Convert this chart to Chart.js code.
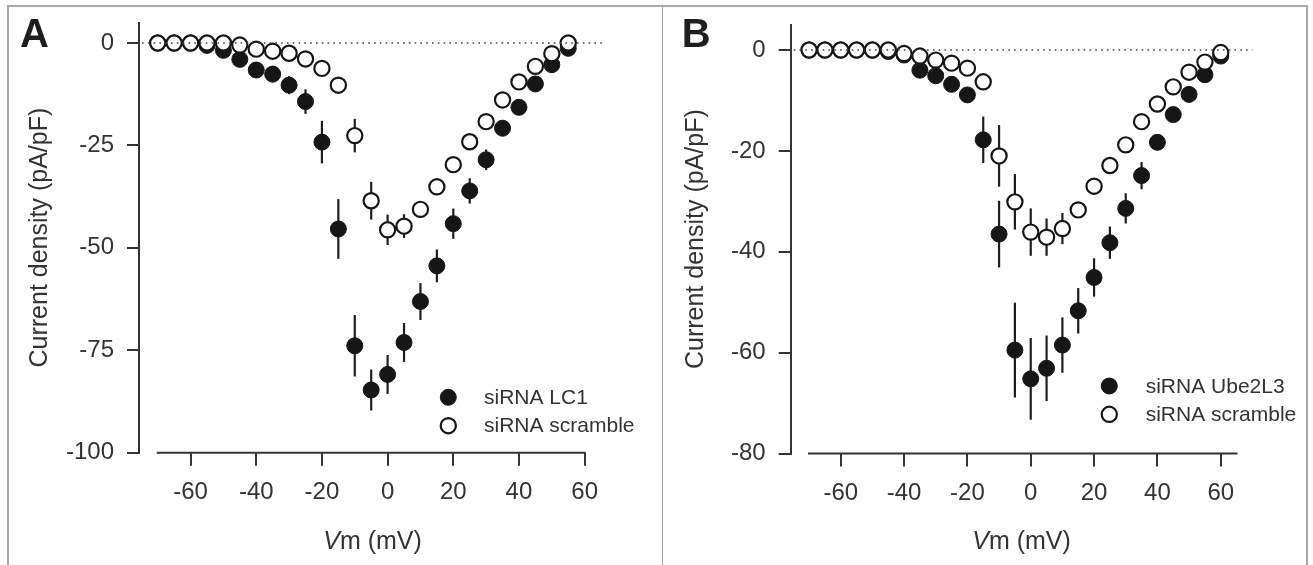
<!DOCTYPE html>
<html><head><meta charset="utf-8">
<script src="https://cdn.jsdelivr.net/npm/chart.js@4.4.1/dist/chart.umd.min.js"></script>
<style>
html,body{margin:0;padding:0;background:#fff;}
body{width:1313px;height:565px;position:relative;overflow:hidden;}
.frame{position:absolute;background:#a9a9a9;}
#wa{position:absolute;left:0;top:0;width:656px;height:565px;}
#wb{position:absolute;left:656px;top:0;width:657px;height:565px;}
</style></head><body>
<div class="frame" style="left:7px;top:5px;width:1300px;height:1.5px"></div>
<div class="frame" style="left:7px;top:5px;width:1.5px;height:560px"></div>
<div class="frame" style="left:661.5px;top:5px;width:1.5px;height:560px"></div>
<div class="frame" style="left:1306px;top:5px;width:1.5px;height:560px"></div>
<div id="wa"><canvas id="ca" width="656" height="565"></canvas></div>
<div id="wb"><canvas id="cb" width="657" height="565"></canvas></div>
<script>
// ---------- DATA ----------
const xTickValues = [-60, -40, -20, 0, 20, 40, 60];
const yTicksA = [0, -25, -50, -75, -100];
const yTicksB = [0, -20, -40, -60, -80];

// Panel A
const voltageA = [-70,-65,-60,-55,-50,-45,-40,-35,-30,-25,-20,-15,-10,-5,0,5,10,15,20,25,30,35,40,45,50,55];
const lc1Current = [0,0,0,-0.6,-1.8,-4.0,-6.6,-7.6,-10.3,-14.3,-24.2,-45.4,-73.9,-84.7,-80.9,-73.1,-63.1,-54.4,-44.1,-36.1,-28.5,-20.8,-15.7,-10.0,-5.3,-1.3];
const lc1Err     = [0.3,0.3,0.3,0.4,0.6,1.0,1.8,2.0,2.2,3.0,5.2,7.3,7.5,5.0,4.75,4.75,4.5,4.0,3.7,3.1,2.5,1.6,1.2,1.0,0.8,0.6];
const scrambleACurrent = [0,0,0,0,0,-0.5,-1.5,-2.0,-2.5,-3.9,-6.2,-10.3,-22.6,-38.5,-45.6,-44.7,-40.6,-35.1,-29.7,-24.1,-19.2,-13.9,-9.5,-5.7,-2.6,0];
const scrambleAErr     = [0.2,0.2,0.2,0.2,0.2,0.3,0.4,0.5,0.6,0.8,1.0,1.2,4.1,4.6,3.7,2.9,1.8,1.5,1.2,1.0,1.0,0.9,0.8,0.7,0.6,0.4];

// Panel B
const voltageB = [-70,-65,-60,-55,-50,-45,-40,-35,-30,-25,-20,-15,-10,-5,0,5,10,15,20,25,30,35,40,45,50,55,60];
const ube2l3Current = [0,0,0,0,0,-0.3,-1.0,-4.0,-5.1,-6.8,-8.9,-17.8,-36.5,-59.5,-65.2,-63.1,-58.5,-51.7,-45.1,-38.2,-31.4,-24.9,-18.3,-12.8,-8.8,-4.9,-1.2];
const ube2l3Err     = [0.2,0.2,0.2,0.2,0.2,0.3,0.4,0.8,1.0,1.2,1.4,4.6,6.6,9.4,8.1,6.5,5.5,4.5,3.8,3.2,3.0,2.7,1.5,1.2,1.0,0.8,0.6];
const scrambleBCurrent = [0,0,0,0,0,0,-0.7,-1.2,-2.0,-2.6,-3.6,-6.3,-21.0,-30.1,-36.1,-37.1,-35.4,-31.7,-27.0,-22.9,-18.8,-14.2,-10.7,-7.3,-4.4,-2.4,-0.5];
const scrambleBErr     = [0.2,0.2,0.2,0.2,0.2,0.2,0.3,0.5,0.6,0.8,1.0,1.2,6.1,5.5,4.7,3.7,3.1,1.6,1.4,1.2,1.0,1.0,0.9,0.8,0.6,0.5,0.4];

// ---------- STYLE ----------
const FAM = '"Liberation Sans", Arial, Helvetica, sans-serif';
Chart.defaults.font.family = FAM;
const INK = '#161616';
const TXT = '#333333';

const filledStyle = {pointRadius: 8, pointBorderWidth: 1, pointBackgroundColor: INK, pointBorderColor: INK};
const openStyle = {pointRadius: 7.6, pointBorderWidth: 2.2, pointBackgroundColor: '#ffffff', pointBorderColor: INK};

const decor = {
  id: 'panelDecor',
  beforeDatasetsDraw(chart, args, o) {
    const {ctx} = chart; const x = chart.scales.x, y = chart.scales.y;
    ctx.save();
    // error bars
    ctx.strokeStyle = '#1e1e1e'; ctx.lineWidth = 2.2; ctx.lineCap = 'butt';
    chart.data.datasets.forEach(ds => {
      ds.data.forEach((p, i) => {
        const e = ds.errors[i];
        if (!e) return;
        const px = x.getPixelForValue(p.x);
        ctx.beginPath();
        ctx.moveTo(px, y.getPixelForValue(p.y + e));
        ctx.lineTo(px, y.getPixelForValue(p.y - e));
        ctx.stroke();
      });
    });
    // x axis line
    const yb = chart.chartArea.bottom;
    ctx.strokeStyle = '#333'; ctx.lineWidth = 2;
    ctx.beginPath();
    ctx.moveTo(x.getPixelForValue(o.axisFrom) - 1, yb);
    ctx.lineTo(x.getPixelForValue(o.axisTo) + 1, yb);
    ctx.stroke();
    ctx.restore();
  },
  afterDatasetsDraw(chart, args, o) {
    const {ctx, chartArea} = chart; const x = chart.scales.x, y = chart.scales.y;
    ctx.save();
    // dotted zero line
    const y0 = y.getPixelForValue(0);
    ctx.strokeStyle = '#444'; ctx.lineWidth = 1.6; ctx.setLineDash([1.6, 4.2]);
    ctx.beginPath(); ctx.moveTo(chartArea.left + 3, y0); ctx.lineTo(chartArea.right, y0); ctx.stroke();
    ctx.setLineDash([]);
    // legend
    const dsets = o.legendOrder.map(i => chart.data.datasets[i]);
    dsets.forEach((ds, k) => {
      const cy = o.legendY[k];
      ctx.beginPath();
      ctx.arc(o.legendX, cy, ds.pointRadius, 0, Math.PI * 2);
      ctx.fillStyle = ds.pointBackgroundColor; ctx.fill();
      ctx.lineWidth = ds.pointBorderWidth; ctx.strokeStyle = ds.pointBorderColor; ctx.stroke();
      ctx.fillStyle = TXT; ctx.font = '21px ' + FAM; ctx.textBaseline = 'middle'; ctx.textAlign = 'left';
      ctx.fillText(ds.label, o.legendTextX, cy + 1);
    });
    // panel letter
    ctx.fillStyle = '#1e1e1e'; ctx.font = 'bold 40px ' + FAM; ctx.textBaseline = 'alphabetic';
    ctx.fillText(o.letter, o.letterX, 47);
    // x title: italic V + "m (mV)"
    ctx.fillStyle = TXT;
    const fi = 'italic 25px ' + FAM, fn = '25px ' + FAM;
    ctx.font = fi; const w1 = ctx.measureText('V').width;
    ctx.font = fn; const w2 = ctx.measureText('m (mV)').width;
    const cx = (chartArea.left + chartArea.right) / 2;
    let sx = cx - (w1 + w2) / 2;
    ctx.font = fi; ctx.fillText('V', sx, 549);
    ctx.font = fn; ctx.fillText('m (mV)', sx + w1, 549);
    ctx.restore();
  }
};

function pts(xs, ys) { return xs.map((v, i) => ({x: v, y: ys[i]})); }

function makePanel(id, p) {
  return new Chart(document.getElementById(id), {
    type: 'scatter',
    data: {datasets: [
      Object.assign({label: 'siRNA scramble', data: pts(p.vx, p.openY), errors: p.openE}, openStyle),
      Object.assign({label: p.filledLabel, data: pts(p.vx, p.fillY), errors: p.fillE}, filledStyle)
    ]},
    options: {
      responsive: false, animation: false, devicePixelRatio: 1,
      layout: {padding: {left: 0, top: p.top, right: p.right, bottom: 0}},
      plugins: {
        legend: {display: false}, tooltip: {enabled: false},
        panelDecor: {axisFrom: -70, axisTo: p.axisTo, legendOrder: [1, 0], legendX: p.legX, legendY: p.legY, legendTextX: p.legTX, letter: p.letter, letterX: p.letterX}
      },
      scales: {
        x: {
          type: 'linear', min: p.xmin, max: p.xmax,
          afterBuildTicks: s => { s.ticks = xTickValues.map(v => ({value: v})); },
          afterFit: s => { s.height = p.xh; s.paddingLeft = 0; s.paddingRight = 0; },
          grid: {display: true, drawOnChartArea: false, drawTicks: true, tickLength: 13, color: '#333', lineWidth: 2},
          border: {display: false},
          ticks: {font: {size: 24}, color: TXT, padding: 12, maxRotation: 0, autoSkip: false, callback: v => String(v)}
        },
        y: {
          type: 'linear', min: p.ymin, max: 5,
          afterBuildTicks: s => { s.ticks = p.yTicks.map(v => ({value: v})); },
          afterFit: s => { s.width = p.yw; s.paddingTop = 0; s.paddingBottom = 0; },
          grid: {display: true, drawOnChartArea: false, drawTicks: true, tickLength: 12, color: '#333', lineWidth: 2},
          border: {display: true, color: '#333', width: 2},
          ticks: {font: {size: 24}, color: TXT, padding: 13, autoSkip: false, callback: v => String(v)},
          title: {display: true, text: 'Current density (pA/pF)', font: {size: 25}, color: TXT, padding: {top: 25, bottom: 0}}
        }
      }
    },
    plugins: [decor]
  });
}

makePanel('ca', {
  vx: voltageA, fillY: lc1Current, fillE: lc1Err, openY: scrambleACurrent, openE: scrambleAErr,
  filledLabel: 'siRNA LC1', yTicks: yTicksA, ymin: -100, xmin: -75.7, xmax: 66.5, axisTo: 60,
  top: 22.5, right: 50, yw: 139, xh: 112.3,
  legX: 448.3, legY: [397.3, 425.7], legTX: 484, letter: 'A', letterX: 20
});
makePanel('cb', {
  vx: voltageB, fillY: ube2l3Current, fillE: ube2l3Err, openY: scrambleBCurrent, openE: scrambleBErr,
  filledLabel: 'siRNA Ube2L3', yTicks: yTicksB, ymin: -80, xmin: -75.8, xmax: 70, axisTo: 65,
  top: 24.8, right: 60.6, yw: 134.7, xh: 111.5,
  legX: 453.3, legY: [386, 414.3], legTX: 489.7, letter: 'B', letterX: 25.7
});
</script>
</body></html>
